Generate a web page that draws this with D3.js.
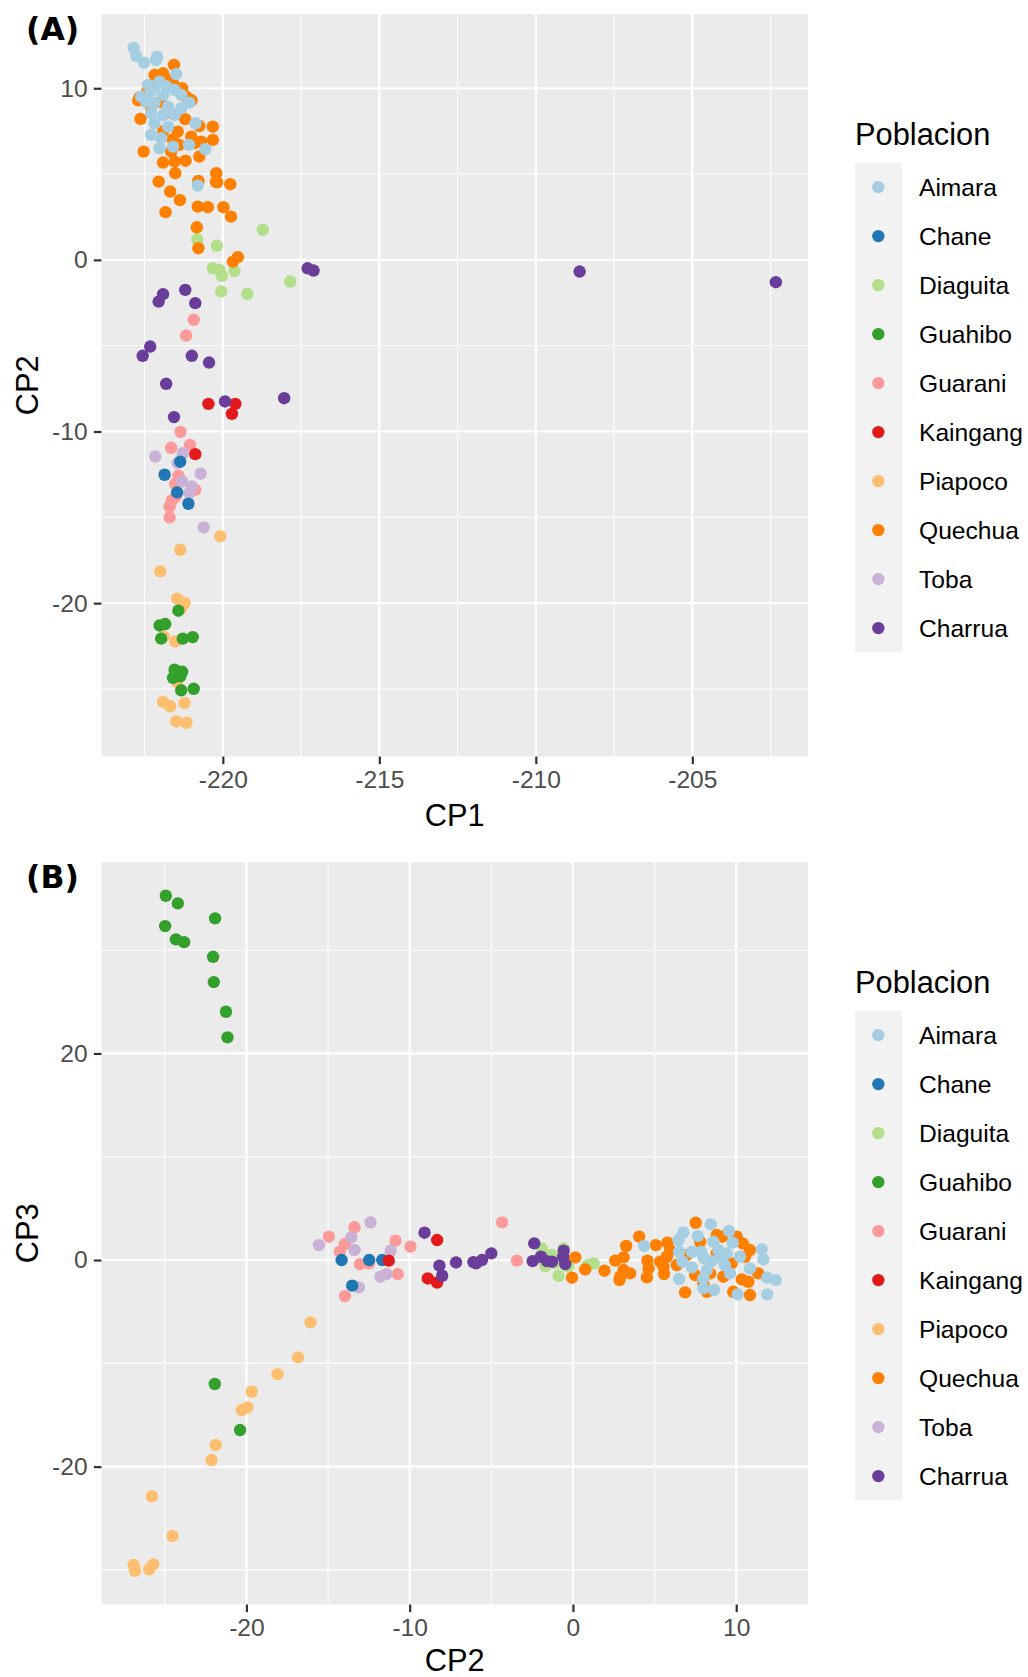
<!DOCTYPE html>
<html>
<head>
<meta charset="utf-8">
<script src="https://cdn.jsdelivr.net/npm/d3@7"></script>
<style>
  html, body { margin: 0; padding: 0; background: #ffffff; }
  svg text { font-family: "Liberation Sans", Arial, Helvetica, sans-serif; }
</style>
</head>
<body>
<svg id="fig" width="1028" height="1677"></svg>
<script>
// Population labels and their Brewer "Paired" colours
const populations = ["Aimara", "Chane", "Diaguita", "Guahibo", "Guarani", "Kaingang", "Piapoco", "Quechua", "Toba", "Charrua"];
const palette = ["#A6CEE3", "#1F78B4", "#B2DF8A", "#33A02C", "#FB9A99", "#E31A1C", "#FDBF6F", "#FF7F00", "#CAB2D6", "#6A3D9A"];

// Tick values
const ticksA_x = [-220, -215, -210, -205];
const ticksA_y = [-20, -10, 0, 10];
const ticksB_x = [-20, -10, 0, 10];
const ticksB_y = [-20, 0, 20];

// ---- Panel A: [CP1, CP2] per individual ----
const quechuaA = [
  [-221.56, 11.36], [-222.18, 10.77], [-221.91, 10.87], [-221.59, 10.29], [-222.66, 9.47], [-221.17, 9.51],
  [-222.63, 8.21], [-221.44, 7.47], [-220.75, 7.80], [-220.32, 7.76], [-221.01, 7.18], [-220.69, 6.89],
  [-220.32, 6.99], [-222.53, 6.31], [-221.65, 6.31], [-221.91, 5.67], [-221.54, 5.73], [-221.19, 5.78],
  [-220.75, 6.02], [-221.52, 5.05], [-220.21, 5.05], [-222.05, 4.56], [-220.78, 4.60], [-220.18, 4.52],
  [-219.76, 4.41], [-221.68, 3.98], [-221.37, 3.48], [-221.83, 2.78], [-220.80, 3.10], [-220.48, 3.07],
  [-219.98, 3.07], [-219.74, 2.52], [-220.83, 1.90], [-220.78, 0.68], [-219.68, -0.10], [-219.52, 0.16],
  [-222.40, 9.90], [-222.00, 9.20], [-221.80, 10.50], [-221.30, 10.00], [-221.70, 8.60], [-222.30, 8.90],
  [-221.20, 8.20], [-221.90, 7.50], [-221.60, 7.00], [-220.90, 6.80], [-222.70, 9.30], [-221.40, 6.70],
  [-221.00, 9.30], [-220.22, 4.55]
];
const aimaraA = [
  [-222.85, 12.36], [-222.77, 11.88], [-222.52, 11.49], [-222.10, 11.84], [-222.13, 11.65], [-221.49, 10.82],
  [-222.39, 10.19], [-222.02, 10.38], [-222.61, 9.51], [-222.29, 9.80], [-221.54, 9.90], [-221.33, 9.61],
  [-221.07, 9.16], [-222.18, 9.13], [-221.75, 8.93], [-221.33, 8.83], [-222.29, 8.54], [-221.91, 8.44],
  [-221.54, 8.44], [-222.18, 7.96], [-221.75, 7.76], [-222.29, 7.28], [-221.97, 7.09], [-222.02, 6.50],
  [-221.59, 6.60], [-221.08, 6.70], [-220.56, 6.45], [-220.87, 7.96], [-220.80, 4.33], [-222.45, 9.20],
  [-221.90, 9.60], [-222.20, 10.00], [-221.80, 10.10]
];
const diaguitaA = [
  [-218.72, 1.75], [-220.82, 1.20], [-220.19, 0.82], [-220.32, -0.49], [-220.11, -0.58], [-220.03, -0.93],
  [-219.63, -0.64], [-220.05, -1.84], [-219.22, -1.98], [-217.85, -1.26]
];
const charruaA = [
  [-217.29, -0.49], [-217.10, -0.62], [-221.20, -1.75], [-220.88, -2.52], [-220.99, -5.59], [-220.44, -5.98],
  [-218.04, -8.06], [-219.93, -8.25], [-221.91, -2.00], [-222.05, -2.43], [-222.32, -5.05], [-222.56, -5.59],
  [-221.81, -7.22], [-221.56, -9.16], [-208.60, -0.68], [-202.33, -1.30]
];
const guaraniA = [
  [-220.93, -3.49], [-221.17, -4.41], [-221.35, -10.02], [-221.65, -10.95], [-221.05, -10.79], [-221.42, -12.58],
  [-221.52, -13.05], [-220.88, -13.40], [-221.63, -14.02], [-221.70, -14.37], [-221.70, -15.01], [-221.50, -13.80]
];
const tobaA = [
  [-222.16, -11.46], [-221.28, -11.26], [-221.44, -11.84], [-220.71, -12.46], [-220.99, -13.20], [-221.07, -13.59],
  [-220.61, -15.59], [-221.30, -12.90]
];
const chaneA = [[-221.36, -11.76], [-221.86, -12.52], [-221.46, -13.55], [-221.10, -14.21]];
const kaingangA = [[-220.46, -8.39], [-219.60, -8.39], [-219.71, -8.97], [-220.88, -11.32]];
const piapocoA = [
  [-220.08, -16.11], [-221.36, -16.89], [-222.00, -18.15], [-221.46, -19.74], [-221.22, -19.99], [-221.33, -20.29],
  [-221.89, -21.94], [-221.52, -22.23], [-221.46, -24.60], [-221.91, -25.76], [-221.68, -26.01], [-221.22, -25.82],
  [-221.49, -26.89], [-221.16, -26.97]
];
const guahiboA = [
  [-221.42, -20.44], [-222.02, -21.30], [-221.84, -21.22], [-221.97, -22.07], [-221.28, -22.07], [-220.96, -21.98],
  [-221.54, -23.88], [-221.59, -24.36], [-221.36, -24.27], [-221.33, -25.08], [-220.93, -24.99], [-221.30, -24.00]
];

// ---- Panel B: [CP2, CP3] per individual ----
const guahiboB = [
  [-24.94, 35.27], [-24.20, 34.53], [-21.92, 33.08], [-24.98, 32.33], [-24.32, 31.05], [-23.82, 30.78],
  [-22.04, 29.36], [-22.00, 26.91], [-21.25, 24.04], [-21.16, 21.56], [-21.94, -12.00], [-20.39, -16.46]
];
const piapocoB = [
  [-16.07, -6.03], [-16.84, -9.42], [-18.10, -11.04], [-19.68, -12.75], [-20.29, -14.52], [-19.94, -14.26],
  [-21.88, -17.91], [-22.14, -19.36], [-25.79, -22.88], [-24.53, -26.72], [-26.91, -29.53], [-26.83, -30.08],
  [-25.96, -29.95], [-25.71, -29.46]
];
const guaraniB = [
  [-14.95, 2.26], [-13.38, 3.17], [-13.97, 1.55], [-14.28, 0.81], [-13.05, -0.39], [-12.50, -0.32],
  [-10.87, 1.87], [-10.73, -1.36], [-13.97, -3.49], [-9.95, 1.29], [-4.34, 3.65], [-3.43, -0.06]
];
const tobaB = [
  [-15.56, 1.45], [-13.58, 2.20], [-12.40, 3.65], [-13.38, 0.97], [-11.17, 0.90], [-11.79, -1.61],
  [-11.42, -1.36], [-13.11, -2.65]
];
const chaneB = [[-14.17, 0.00], [-12.48, 0.00], [-11.68, 0.00], [-13.52, -2.48]];
const kaingangB = [[-11.28, -0.06], [-8.32, 1.94], [-8.89, -1.78], [-8.32, -2.19]];
const diaguitaB = [
  [-1.90, 1.13], [-0.57, 1.13], [-1.69, -0.58], [-0.88, -1.52], [1.26, -0.32], [-1.30, 0.50],
  [-0.30, -0.60], [0.90, -0.50], [-2.00, 0.20], [-1.10, -0.30]
];
const charruaB = [
  [-9.09, 2.65], [-8.18, -0.55], [-8.01, -1.52], [-7.16, -0.23], [-5.93, -0.32], [-5.57, 0.00],
  [-5.00, 0.65], [-2.37, 1.61], [-2.47, -0.10], [-1.96, 0.32], [-1.28, -0.16], [-0.57, 0.90],
  [-0.47, -0.39], [-6.10, -0.20], [-1.60, -0.10], [-0.60, 0.30]
];
const quechuaB = [
  [0.14, 0.26], [0.75, -0.90], [-0.06, -1.71], [1.93, -1.03], [2.59, -0.06], [2.85, -1.94],
  [3.26, 1.36], [3.10, 0.26], [3.50, -1.29], [4.06, 2.26], [4.56, -0.06], [4.53, -1.68],
  [5.08, 1.45], [5.79, 1.68], [5.58, -1.36], [5.75, 0.32], [6.36, -0.48], [7.52, 3.61],
  [6.87, -3.13], [8.81, 2.42], [10.03, 2.26], [10.40, 1.61], [10.84, 0.97], [10.34, -1.87],
  [10.74, -2.10], [9.82, -3.07], [10.84, -3.39], [11.35, -1.29], [8.20, -3.07], [7.99, -2.26],
  [8.40, -1.29], [9.21, -1.61], [4.63, -0.81], [5.34, -0.16], [5.95, 0.97], [6.97, 0.48],
  [7.79, 1.77], [9.15, 2.26], [9.72, -0.32], [10.54, 0.32], [3.10, -0.97], [2.89, -1.61],
  [5.54, -0.64], [7.48, -1.45], [8.81, 0.65]
];
const aimaraB = [
  [4.36, 1.36], [6.76, 2.68], [7.65, 2.32], [8.44, 3.45], [9.56, 2.81], [6.46, 1.94],
  [6.50, 0.80], [6.70, -0.16], [7.28, 0.80], [7.85, 0.80], [7.28, -0.71], [6.50, -1.84],
  [8.60, 1.77], [9.79, 1.68], [8.91, 0.97], [9.42, 0.65], [10.23, 0.32], [8.50, -0.10],
  [8.20, -0.97], [7.99, -1.77], [7.99, -2.74], [8.64, -2.90], [9.62, -1.29], [10.84, -0.81],
  [11.56, 1.06], [11.66, 0.06], [11.90, -1.71], [12.43, -1.94], [11.90, -3.32], [10.09, -3.32],
  [9.00, 0.30], [9.30, -0.50], [8.00, 0.20]
];

// Layers in drawing order (later layers sit on top)
const layersA = [
  ["Piapoco", piapocoA], ["Guahibo", guahiboA], ["Guarani", guaraniA], ["Toba", tobaA], ["Chane", chaneA],
  ["Kaingang", kaingangA], ["Diaguita", diaguitaA], ["Quechua", quechuaA], ["Aimara", aimaraA], ["Charrua", charruaA]
];
const layersB = [
  ["Piapoco", piapocoB], ["Guahibo", guahiboB], ["Guarani", guaraniB], ["Toba", tobaB], ["Chane", chaneB],
  ["Kaingang", kaingangB], ["Diaguita", diaguitaB], ["Quechua", quechuaB], ["Aimara", aimaraB], ["Charrua", charruaB]
];

const colour = d3.scaleOrdinal().domain(populations).range(palette);
const svg = d3.select("#fig");

const FS_TICK = 24.6, FS_TITLE = 30.8, FS_TAG = 31.5;
const TICK_LEN = 7.7;
const PT_R = 6.2;

// Extent padded by 5% on both sides
function padded(vals) {
  const [lo, hi] = d3.extent(vals);
  const m = (hi - lo) * 0.05;
  return [lo - m, hi + m];
}

function midpoints(ticks, domain) {
  const step = ticks[1] - ticks[0];
  const out = [];
  for (let v = ticks[0] - step / 2; v >= domain[0]; v -= step) out.push(v);
  for (let i = 0; i < ticks.length; i++) {
    const v = ticks[i] + step / 2;
    if (v <= domain[1]) out.push(v);
  }
  return out;
}

function drawPanel(cfg) {
  const { left, right, top, bottom, layers, xTicks, yTicks, xLabel, yLabel, tag, xTitleY } = cfg;
  const all = layers.flatMap(l => l[1]);
  const xDom = padded(all.map(d => d[0]));
  const yDom = padded(all.map(d => d[1]));
  const x = d3.scaleLinear().domain(xDom).range([left, right]);
  const y = d3.scaleLinear().domain(yDom).range([bottom, top]);

  const g = svg.append("g");
  g.append("rect").attr("x", left).attr("y", top)
    .attr("width", right - left).attr("height", bottom - top).attr("fill", "#EBEBEB");

  // minor grid
  const grid = g.append("g").attr("stroke", "#FFFFFF");
  midpoints(xTicks, xDom).forEach(v => grid.append("line")
    .attr("x1", x(v)).attr("x2", x(v)).attr("y1", top).attr("y2", bottom).attr("stroke-width", 1.1));
  midpoints(yTicks, yDom).forEach(v => grid.append("line")
    .attr("y1", y(v)).attr("y2", y(v)).attr("x1", left).attr("x2", right).attr("stroke-width", 1.1));
  // major grid
  xTicks.forEach(v => grid.append("line")
    .attr("x1", x(v)).attr("x2", x(v)).attr("y1", top).attr("y2", bottom).attr("stroke-width", 2.2));
  yTicks.forEach(v => grid.append("line")
    .attr("y1", y(v)).attr("y2", y(v)).attr("x1", left).attr("x2", right).attr("stroke-width", 2.2));

  // points
  layers.forEach(([name, pts]) => {
    g.append("g").selectAll("circle").data(pts).join("circle")
      .attr("cx", d => x(d[0])).attr("cy", d => y(d[1]))
      .attr("r", PT_R).attr("fill", colour(name));
  });

  // axes
  const fmt = d => d3.format("d")(d).replace("−", "-");
  const xAxis = d3.axisBottom(x).tickValues(xTicks).tickSize(TICK_LEN).tickPadding(6.5).tickFormat(fmt);
  const yAxis = d3.axisLeft(y).tickValues(yTicks).tickSize(TICK_LEN).tickPadding(6.2).tickFormat(fmt);
  const gx = g.append("g").attr("transform", `translate(0,${bottom})`).call(xAxis);
  const gy = g.append("g").attr("transform", `translate(${left},0)`).call(yAxis);
  [gx, gy].forEach(a => {
    a.select(".domain").remove();
    a.selectAll(".tick line").attr("stroke", "#333333").attr("stroke-width", 2.2);
    a.selectAll(".tick text").attr("fill", "#4D4D4D").attr("font-size", FS_TICK);
  });

  // axis titles
  g.append("text").attr("x", (left + right) / 2).attr("y", xTitleY)
    .attr("text-anchor", "middle").attr("font-size", FS_TITLE).attr("fill", "#000").text(xLabel);
  g.append("text").attr("transform", `translate(38,${(top + bottom) / 2}) rotate(-90)`)
    .attr("text-anchor", "middle").attr("font-size", FS_TITLE).attr("fill", "#000").text(yLabel);

  // panel tag
  g.append("text").attr("x", 26).attr("y", top + 25.5)
    .style("font-family", "'DejaVu Sans', sans-serif")
    .style("font-size", FS_TAG + "px")
    .style("font-weight", "bold").attr("fill", "#000").text(tag);

  // legend
  const lg = g.append("g");
  const legendTop = top + 148.6;
  lg.append("text").attr("x", 855).attr("y", legendTop - 18).attr("font-size", FS_TITLE)
    .attr("fill", "#000").text("Poblacion");
  lg.append("rect").attr("x", 855).attr("y", legendTop).attr("width", 47)
    .attr("height", populations.length * 49).attr("fill", "#F2F2F2");
  populations.forEach((p, i) => {
    const cy = legendTop + 24.5 + i * 49;
    lg.append("circle").attr("cx", 878.3).attr("cy", cy).attr("r", PT_R).attr("fill", colour(p));
    lg.append("text").attr("x", 919).attr("y", cy + 8.8).attr("font-size", FS_TICK)
      .attr("fill", "#000").text(p);
  });
}

drawPanel({ left: 101.5, right: 808, top: 14, bottom: 756.5, layers: layersA,
  xTicks: ticksA_x, yTicks: ticksA_y, xLabel: "CP1", yLabel: "CP2", tag: "(A)", xTitleY: 825.5 });
drawPanel({ left: 101.5, right: 808, top: 862, bottom: 1604.5, layers: layersB,
  xTicks: ticksB_x, yTicks: ticksB_y, xLabel: "CP2", yLabel: "CP3", tag: "(B)", xTitleY: 1670.5 });
</script>
</body>
</html>
